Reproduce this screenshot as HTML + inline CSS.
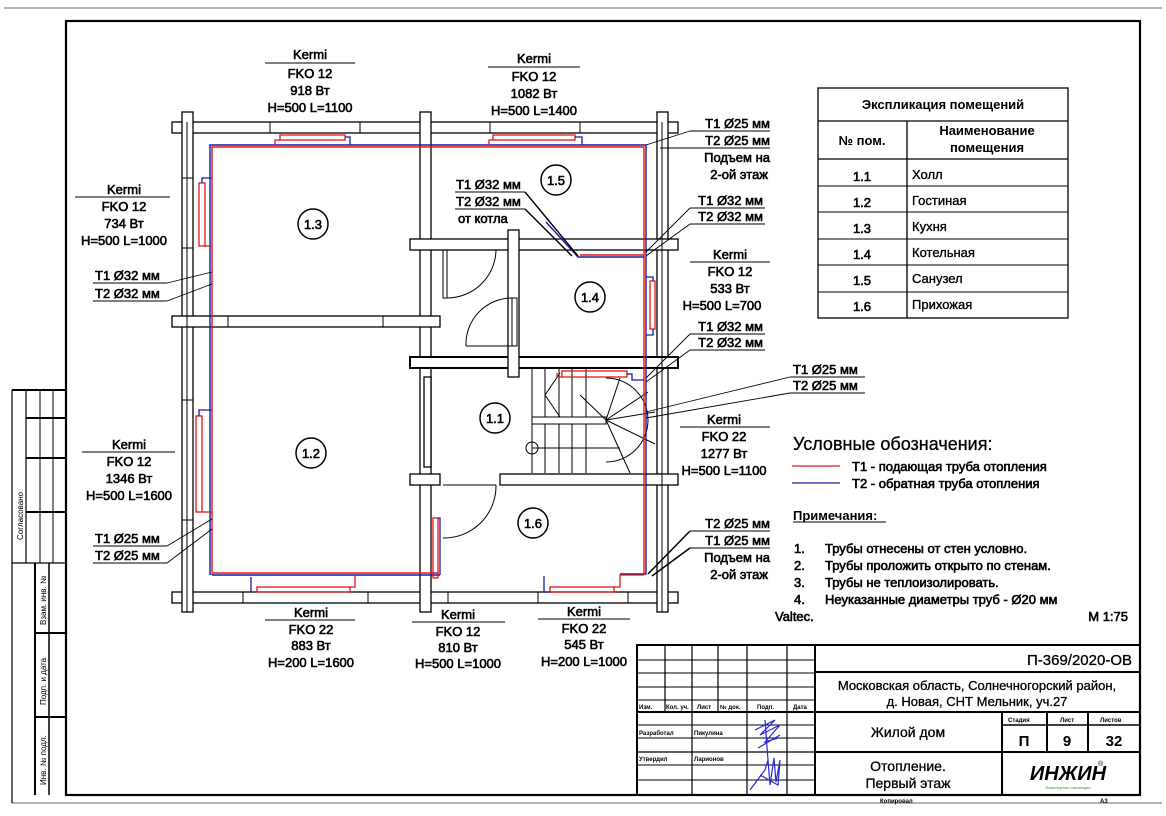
<!DOCTYPE html>
<html><head><meta charset="utf-8"><style>
html,body{margin:0;padding:0;background:#fff;}
svg{display:block;}
text{font-family:"Liberation Sans",Arial,sans-serif;fill:#000;}
.a{font-size:13px;stroke:#000;stroke-width:0.6;}
.m{text-anchor:middle;}
.e{text-anchor:end;}
</style></head><body>
<svg width="1166" height="816" viewBox="0 0 1166 816" xmlns="http://www.w3.org/2000/svg">
<rect x="0" y="0" width="1166" height="816" fill="#fff"/>
<line x1="4" y1="8" x2="1162" y2="8" stroke="#999" stroke-width="1.5"/>
<line x1="12" y1="803" x2="1162" y2="803" stroke="#999" stroke-width="1.5"/>
<rect x="66" y="21" width="1074" height="774" fill="none" stroke="#000" stroke-width="2.2"/>
<g stroke="#000" fill="none">
<line x1="12" y1="390" x2="12" y2="803" stroke-width="1.2"/>
<line x1="12" y1="390" x2="66" y2="390" stroke-width="2"/>
<line x1="26" y1="390" x2="26" y2="563" stroke-width="1.2"/>
<line x1="40" y1="390" x2="40" y2="563" stroke-width="1"/>
<line x1="53" y1="390" x2="53" y2="563" stroke-width="1"/>
<line x1="26" y1="418" x2="66" y2="418" stroke-width="2"/>
<line x1="26" y1="458" x2="66" y2="458" stroke-width="2"/>
<line x1="26" y1="512" x2="66" y2="512" stroke-width="2"/>
<line x1="12" y1="563" x2="66" y2="563" stroke-width="1.2"/>
<line x1="35" y1="563" x2="35" y2="795" stroke-width="2"/>
<line x1="49" y1="563" x2="49" y2="795" stroke-width="1.5"/>
<line x1="35" y1="633" x2="66" y2="633" stroke-width="2"/>
<line x1="35" y1="717" x2="66" y2="717" stroke-width="2"/>
</g>
<text transform="translate(23,540) rotate(-90)" font-size="8">Согласовано</text>
<text transform="translate(46,625) rotate(-90)" font-size="8">Взам. инв. №</text>
<text transform="translate(46,705) rotate(-90)" font-size="8">Подп. и дата</text>
<text transform="translate(46,785) rotate(-90)" font-size="8">Инв. № подл.</text>

<g stroke="#000" stroke-width="1.3" fill="#fff">
<rect x="172" y="122" width="506" height="11"/>
<rect x="172" y="592" width="506" height="11"/>
<rect x="182" y="112" width="11" height="500"/>
<rect x="657" y="112" width="11" height="500"/>
<rect x="420" y="112" width="11" height="500"/>
<rect x="172" y="316" width="268" height="11"/>
<rect x="410" y="239" width="268" height="11"/>
<rect x="410" y="357" width="268" height="11" stroke-width="2"/>
<rect x="508" y="230" width="11" height="147"/>
<rect x="410" y="474" width="30" height="11"/>
<rect x="500" y="474" width="178" height="11"/>
<rect x="424" y="377" width="7" height="90"/>
</g>
<g stroke="#000" stroke-width="1" fill="none">
<line x1="187" y1="122" x2="187" y2="612"/>
<line x1="662" y1="122" x2="662" y2="612"/>
<line x1="270" y1="122" x2="270" y2="133"/><line x1="360" y1="122" x2="360" y2="133"/>
<line x1="490" y1="122" x2="490" y2="133"/><line x1="580" y1="122" x2="580" y2="133"/>
<line x1="243" y1="592" x2="243" y2="603"/><line x1="368" y1="592" x2="368" y2="603"/>
<line x1="448" y1="592" x2="448" y2="603"/><line x1="538" y1="592" x2="538" y2="603"/><line x1="628" y1="592" x2="628" y2="603"/>
<line x1="182" y1="178" x2="193" y2="178"/><line x1="182" y1="248" x2="193" y2="248"/>
<line x1="182" y1="400" x2="193" y2="400"/><line x1="182" y1="520" x2="193" y2="520"/>
<line x1="228" y1="316" x2="228" y2="327"/><line x1="383" y1="316" x2="383" y2="327"/>
<rect x="443" y="250" width="4" height="48"/>
<path d="M447,250 L496,250 A49,49 0 0 1 447,298"/>
<rect x="512" y="298" width="5" height="48"/>
<path d="M466,346 A46,46 0 0 1 512,298"/>
<line x1="466" y1="346" x2="512" y2="346"/>
<line x1="443" y1="485" x2="496" y2="485"/>
<path d="M496,485 A52,52 0 0 1 443,538"/>
<line x1="532" y1="368" x2="532" y2="473"/>
<line x1="545" y1="368" x2="545" y2="417"/><line x1="559" y1="368" x2="559" y2="417"/>
<line x1="572" y1="368" x2="572" y2="417"/><line x1="586" y1="368" x2="586" y2="417"/>
<line x1="545" y1="424" x2="545" y2="473"/><line x1="559" y1="424" x2="559" y2="473"/>
<line x1="572" y1="424" x2="572" y2="473"/><line x1="586" y1="424" x2="586" y2="473"/>
<rect x="532" y="417" width="74" height="7"/>
<line x1="532" y1="448" x2="620" y2="448"/>
<path d="M606,378 A42,42 0 0 1 606,462"/>
<line x1="606" y1="420" x2="648" y2="392"/><line x1="606" y1="420" x2="655" y2="412"/>
<line x1="606" y1="420" x2="655" y2="444"/><line x1="606" y1="420" x2="630" y2="473"/>
<line x1="606" y1="420" x2="620" y2="378"/><line x1="606" y1="420" x2="580" y2="395"/>
<line x1="560" y1="373" x2="545" y2="395" /><line x1="545" y1="395" x2="560" y2="417"/>
<circle cx="532" cy="448" r="6"/>
<line x1="440" y1="474" x2="440" y2="485"/>
</g>

<g fill="none" stroke-width="1.4">
<path d="M210,575 L210,145 L646,145 L646,574 L620,574" stroke="#1a1aa0"/>
<path d="M212,575 L212,147 L644,147 L644,575" stroke="#e01818"/>
<path d="M212,575 L440,575" stroke="#1a1aa0"/>
<path d="M213,573 L438,573" stroke="#e01818"/>
<path d="M644,257 L578,257 L546,222" stroke="#1a1aa0"/>
<path d="M644,255 L580,255" stroke="#e01818"/>
</g>
<g fill="none" stroke="#e01818" stroke-width="1.3">
<rect x="280" y="135" width="65" height="5"/><path d="M280,140 L275,140 L275,145"/>
<rect x="493" y="135" width="82" height="5"/><path d="M493,140 L489,140 L489,145"/>
<rect x="199" y="183" width="6" height="63"/><path d="M205,246 L212,246"/>
<rect x="196" y="416" width="6" height="96"/><path d="M202,512 L212,512"/>
<rect x="257" y="587" width="93" height="5"/><path d="M350,587 L355,587 L355,575"/>
<rect x="550" y="587" width="64" height="5"/><path d="M614,587 L620,587 L620,575 L644,575"/>
<rect x="433" y="518" width="5" height="60"/>
<rect x="650" y="281" width="5" height="48"/>
<rect x="562" y="371" width="65" height="6"/><path d="M562,377 L557,377 L557,373"/>
</g>
<g fill="none" stroke="#1a1aa0" stroke-width="1.3">
<path d="M345,137 L350,137 L350,145"/>
<path d="M575,137 L582,137 L582,145"/>
<path d="M202,183 L202,178 L212,178"/>
<path d="M199,416 L199,410 L212,410"/>
<path d="M251,592 L251,577"/>
<path d="M550,592 L544,592 L544,576"/>
<path d="M438,518 L440,518 L440,575"/>
<path d="M653,281 L653,277 L646,277"/><path d="M653,329 L653,335 L646,335"/>
<path d="M627,374 L632,374 L632,380 L644,380"/>
</g>

<g fill="#fff" stroke="#000" stroke-width="1.5">
<circle cx="313" cy="224" r="15"/><circle cx="556" cy="180" r="15"/>
<circle cx="590" cy="297" r="15"/><circle cx="495" cy="418" r="15"/>
<circle cx="311" cy="453" r="15"/><circle cx="533" cy="523" r="15"/>
</g>
<text x="313" y="229" class="a m">1.3</text><text x="556" y="185" class="a m">1.5</text>
<text x="590" y="302" class="a m">1.4</text><text x="495" y="423" class="a m">1.1</text>
<text x="311" y="458" class="a m">1.2</text><text x="533" y="528" class="a m">1.6</text>

<g stroke="#000" stroke-width="0.9" fill="none">
<line x1="265" y1="63" x2="355" y2="63"/>
<line x1="488" y1="67" x2="580" y2="67"/>
<line x1="75" y1="197" x2="170" y2="197"/>
<line x1="82" y1="452" x2="175" y2="452"/>
<line x1="265" y1="620" x2="355" y2="620"/>
<line x1="412" y1="622" x2="505" y2="622"/>
<line x1="538" y1="619" x2="630" y2="619"/>
<line x1="690" y1="262" x2="770" y2="262"/>
<line x1="680" y1="427" x2="770" y2="427"/>
<line x1="93" y1="283" x2="167" y2="283"/><line x1="167" y1="283" x2="212" y2="272"/>
<line x1="93" y1="301" x2="167" y2="301"/><line x1="167" y1="301" x2="212" y2="284"/>
<line x1="93" y1="546" x2="167" y2="546"/><line x1="167" y1="546" x2="212" y2="519"/>
<line x1="93" y1="563" x2="167" y2="563"/><line x1="167" y1="563" x2="212" y2="529"/>
<line x1="690" y1="131" x2="770" y2="131"/><line x1="690" y1="131" x2="646" y2="145"/>
<line x1="690" y1="148" x2="770" y2="148"/><line x1="690" y1="148" x2="660" y2="148"/>
<line x1="690" y1="208" x2="765" y2="208"/><line x1="690" y1="208" x2="646" y2="252"/>
<line x1="690" y1="224" x2="765" y2="224"/><line x1="690" y1="224" x2="646" y2="256"/>
<line x1="690" y1="334" x2="765" y2="334"/><line x1="690" y1="334" x2="646" y2="378"/>
<line x1="690" y1="350" x2="765" y2="350"/><line x1="690" y1="350" x2="646" y2="382"/>
<line x1="790" y1="377" x2="865" y2="377"/><line x1="790" y1="377" x2="646" y2="412"/>
<line x1="790" y1="393" x2="865" y2="393"/><line x1="790" y1="393" x2="646" y2="418"/>
<line x1="690" y1="531" x2="770" y2="531"/><line x1="690" y1="531" x2="648" y2="574" stroke-width="1.5"/>
<line x1="690" y1="548" x2="770" y2="548"/><line x1="690" y1="548" x2="652" y2="576" stroke-width="1.5"/>
<line x1="455" y1="192" x2="525" y2="192"/><line x1="455" y1="209" x2="525" y2="209"/>
<line x1="525" y1="192" x2="578" y2="256" stroke-width="1.4"/>
<line x1="525" y1="209" x2="572" y2="256" stroke-width="1.4"/>
</g>

<text x="310" y="59" class="a m">Kermi</text><text x="310" y="78" class="a m">FKO 12</text><text x="310" y="95" class="a m">918 Вт</text><text x="310" y="112" class="a m">H=500 L=1100</text>
<text x="534" y="63" class="a m">Kermi</text><text x="534" y="81" class="a m">FKO 12</text><text x="534" y="98" class="a m">1082 Вт</text><text x="534" y="115" class="a m">H=500 L=1400</text>
<text x="124" y="194" class="a m">Kermi</text><text x="124" y="211" class="a m">FKO 12</text><text x="124" y="228" class="a m">734 Вт</text><text x="124" y="245" class="a m">H=500 L=1000</text>
<text x="129" y="449" class="a m">Kermi</text><text x="129" y="466" class="a m">FKO 12</text><text x="129" y="483" class="a m">1346 Вт</text><text x="129" y="500" class="a m">H=500 L=1600</text>
<text x="311" y="617" class="a m">Kermi</text><text x="311" y="634" class="a m">FKO 22</text><text x="311" y="650" class="a m">883 Вт</text><text x="311" y="667" class="a m">H=200 L=1600</text>
<text x="458" y="619" class="a m">Kermi</text><text x="458" y="636" class="a m">FKO 12</text><text x="458" y="652" class="a m">810 Вт</text><text x="458" y="668" class="a m">H=500 L=1000</text>
<text x="584" y="616" class="a m">Kermi</text><text x="584" y="633" class="a m">FKO 22</text><text x="584" y="649" class="a m">545 Вт</text><text x="584" y="666" class="a m">H=200 L=1000</text>
<text x="730" y="259" class="a m">Kermi</text><text x="730" y="276" class="a m">FKO 12</text><text x="730" y="293" class="a m">533 Вт</text><text x="722" y="310" class="a m">H=500 L=700</text>
<text x="724" y="424" class="a m">Kermi</text><text x="724" y="441" class="a m">FKO 22</text><text x="724" y="458" class="a m">1277 Вт</text><text x="724" y="475" class="a m">H=500 L=1100</text>

<text x="95" y="280" class="a">T1 Ø32 мм</text><text x="95" y="298" class="a">T2 Ø32 мм</text>
<text x="95" y="543" class="a">T1 Ø25 мм</text><text x="95" y="560" class="a">T2 Ø25 мм</text>
<text x="456" y="189" class="a">T1 Ø32 мм</text><text x="456" y="206" class="a">T2 Ø32 мм</text><text x="458" y="223" class="a">от котла</text>
<text x="770" y="128" class="a e">T1 Ø25 мм</text><text x="770" y="145" class="a e">T2 Ø25 мм</text>
<text x="770" y="162" class="a e">Подъем на</text><text x="768" y="179" class="a e">2-ой этаж</text>
<text x="763" y="205" class="a e">T1 Ø32 мм</text><text x="763" y="221" class="a e">T2 Ø32 мм</text>
<text x="763" y="331" class="a e">T1 Ø32 мм</text><text x="763" y="347" class="a e">T2 Ø32 мм</text>
<text x="793" y="374" class="a">T1 Ø25 мм</text><text x="793" y="390" class="a">T2 Ø25 мм</text>
<text x="770" y="528" class="a e">T2 Ø25 мм</text><text x="770" y="545" class="a e">T1 Ø25 мм</text>
<text x="770" y="562" class="a e">Подъем на</text><text x="768" y="579" class="a e">2-ой этаж</text>

<g stroke="#000" stroke-width="1.3" fill="none">
<rect x="818" y="88" width="250" height="230"/>
<line x1="818" y1="121" x2="1068" y2="121"/>
<line x1="818" y1="159" x2="1068" y2="159"/>
<line x1="907" y1="121" x2="907" y2="318"/>
<line x1="818" y1="186" x2="1068" y2="186" stroke-width="1"/>
<line x1="818" y1="212" x2="1068" y2="212" stroke-width="1"/>
<line x1="818" y1="239" x2="1068" y2="239" stroke-width="1"/>
<line x1="818" y1="265" x2="1068" y2="265" stroke-width="1"/>
<line x1="818" y1="292" x2="1068" y2="292" stroke-width="1"/>
</g>
<text x="943" y="109" text-anchor="middle" font-weight="bold" font-size="13">Экспликация помещений</text>
<text x="862" y="145" text-anchor="middle" font-weight="bold" font-size="13">№ пом.</text>
<text x="987" y="135" text-anchor="middle" font-weight="bold" font-size="13">Наименование</text>
<text x="987" y="152" text-anchor="middle" font-weight="bold" font-size="13">помещения</text>
<text x="862" y="181" class="a m">1.1</text><text x="912" y="179" class="a" style="stroke-width:0.35">Холл</text>
<text x="862" y="207" class="a m">1.2</text><text x="912" y="205" class="a" style="stroke-width:0.35">Гостиная</text>
<text x="862" y="233" class="a m">1.3</text><text x="912" y="231" class="a" style="stroke-width:0.35">Кухня</text>
<text x="862" y="259" class="a m">1.4</text><text x="912" y="257" class="a" style="stroke-width:0.35">Котельная</text>
<text x="862" y="285" class="a m">1.5</text><text x="912" y="283" class="a" style="stroke-width:0.35">Санузел</text>
<text x="862" y="311" class="a m">1.6</text><text x="912" y="309" class="a" style="stroke-width:0.35">Прихожая</text>

<text x="793" y="450" font-size="18" stroke="#000" stroke-width="0.3">Условные обозначения:</text>
<line x1="792" y1="466" x2="840" y2="466" stroke="#e01818" stroke-width="1.3"/>
<line x1="792" y1="483" x2="840" y2="483" stroke="#1a1aa0" stroke-width="1.3"/>
<text x="852" y="471" class="a">T1 - подающая труба отопления</text>
<text x="852" y="488" class="a">T2 - обратная труба отопления</text>
<text x="793" y="520" font-size="13" font-weight="bold">Примечания:</text>
<line x1="793" y1="522" x2="886" y2="522" stroke="#000" stroke-width="1"/>
<text x="794" y="553" class="a">1.</text><text x="825" y="553" class="a">Трубы отнесены от стен условно.</text>
<text x="794" y="570" class="a">2.</text><text x="825" y="570" class="a">Трубы проложить открыто по стенам.</text>
<text x="794" y="587" class="a">3.</text><text x="825" y="587" class="a">Трубы не теплоизолировать.</text>
<text x="794" y="604" class="a">4.</text><text x="825" y="604" class="a">Неуказанные диаметры труб - Ø20 мм</text>
<text x="775" y="621" class="a">Valtec.</text><text x="1128" y="621" class="a e">M 1:75</text>

<g stroke="#000" fill="none">
<rect x="637" y="645" width="503" height="150" stroke-width="2"/>
<line x1="815" y1="645" x2="815" y2="795" stroke-width="2"/>
<line x1="665" y1="645" x2="665" y2="712" stroke-width="1.2"/>
<line x1="692" y1="645" x2="692" y2="795" stroke-width="1.2"/>
<line x1="718" y1="645" x2="718" y2="712" stroke-width="1.2"/>
<line x1="747" y1="645" x2="747" y2="795" stroke-width="1.2"/>
<line x1="787" y1="645" x2="787" y2="795" stroke-width="1.2"/>
<g stroke-width="1">
<line x1="637" y1="660" x2="815" y2="660"/><line x1="637" y1="673" x2="815" y2="673"/>
<line x1="637" y1="687" x2="815" y2="687"/><line x1="637" y1="700" x2="815" y2="700"/>
<line x1="637" y1="725" x2="815" y2="725"/><line x1="637" y1="738" x2="815" y2="738"/>
<line x1="637" y1="765" x2="815" y2="765"/><line x1="637" y1="780" x2="815" y2="780"/>
</g>
<line x1="637" y1="712" x2="815" y2="712" stroke-width="2"/>
<line x1="637" y1="752" x2="815" y2="752" stroke-width="1.2"/>
<line x1="815" y1="672" x2="1140" y2="672" stroke-width="2"/>
<line x1="815" y1="712" x2="1140" y2="712" stroke-width="2"/>
<line x1="815" y1="752" x2="1140" y2="752" stroke-width="2"/>
<line x1="1002" y1="712" x2="1002" y2="795" stroke-width="2"/>
<line x1="1047" y1="712" x2="1047" y2="752" stroke-width="2"/>
<line x1="1088" y1="712" x2="1088" y2="752" stroke-width="2"/>
<line x1="1002" y1="725" x2="1140" y2="725" stroke-width="1.5"/>
</g>
<g font-size="6" font-weight="bold">
<text x="639" y="709">Изм.</text><text x="666" y="709">Кол. уч.</text><text x="697" y="709">Лист</text><text x="720" y="709">№ док.</text><text x="757" y="709">Подп.</text><text x="793" y="709">Дата</text>
<text x="639" y="735">Разработал</text><text x="694" y="735">Пикулина</text>
<text x="639" y="761">Утвердил</text><text x="694" y="761">Ларионов</text>
<text x="1008" y="722">Стадия</text><text x="1060" y="722">Лист</text><text x="1100" y="722">Листов</text>
<text x="880" y="803">Копировал</text><text x="1100" y="803">А3</text>
</g>
<g fill="none" stroke="#2a2ad0" stroke-width="1.2">
<path d="M755,730 L775,720 L760,735 L780,725 L765,742 L778,738 M765,720 L768,760 M758,748 L780,735"/>
<path d="M750,790 L765,770 L768,760 L770,785 L774,758 L776,782 L780,760 L778,785 L760,775"/>
</g>
<text x="1132" y="665" font-size="15" text-anchor="end" stroke="#000" stroke-width="0.3">П-369/2020-ОВ</text>
<text x="977" y="690" font-size="13" text-anchor="middle" stroke="#000" stroke-width="0.3">Московская область, Солнечногорский район,</text>
<text x="977" y="706" font-size="13" text-anchor="middle" stroke="#000" stroke-width="0.3">д. Новая, СНТ Мельник, уч.27</text>
<text x="908" y="737" font-size="14" text-anchor="middle" stroke="#000" stroke-width="0.3">Жилой дом</text>
<text x="1024" y="746" font-size="15" text-anchor="middle" font-weight="bold">П</text>
<text x="1067" y="746" font-size="15" text-anchor="middle" font-weight="bold">9</text>
<text x="1114" y="746" font-size="15" text-anchor="middle" font-weight="bold">32</text>
<text x="908" y="771" font-size="14" text-anchor="middle" stroke="#000" stroke-width="0.3">Отопление.</text>
<text x="908" y="788" font-size="14" text-anchor="middle" stroke="#000" stroke-width="0.3">Первый этаж</text>
<text x="1068" y="780" font-size="20" text-anchor="middle" font-weight="bold" font-style="italic">ИНЖИН</text>
<text x="1098" y="766" font-size="7">®</text>
<text x="1068" y="789" font-size="4" text-anchor="middle" style="fill:#2a9a2a">Инженерные инновации</text>
</svg>
</body></html>
